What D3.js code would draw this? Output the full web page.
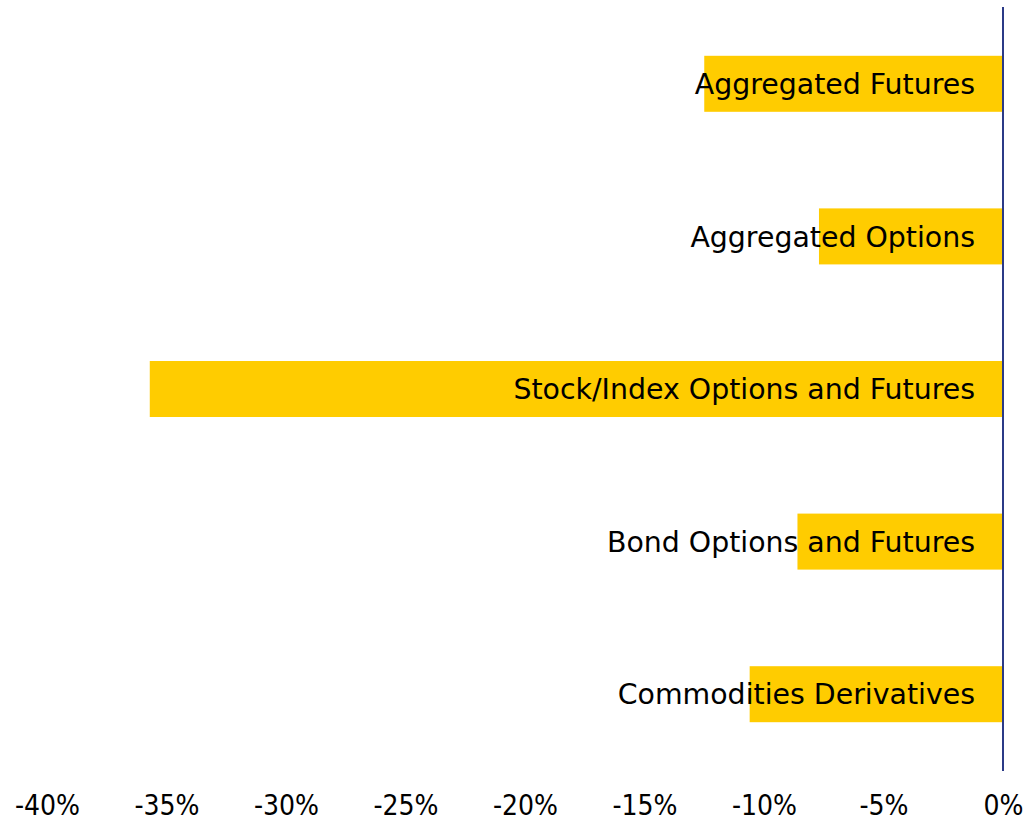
<!DOCTYPE html>
<html>
<head>
<meta charset="utf-8">
<script src="https://cdn.jsdelivr.net/npm/d3@7"></script>
<style>
  body { margin: 0; background: #fff; }
  text { font-family: "DejaVu Sans", sans-serif; fill: #000; }
</style>
</head>
<body>
<svg id="chart" width="1025" height="828"></svg>
<script>
var categories = ["Aggregated Futures", "Aggregated Options", "Stock/Index Options and Futures", "Bond Options and Futures", "Commodities Derivatives"];
var changes = [-12.5, -7.7, -35.7, -8.6, -10.6];
var tickValues = [-40, -35, -30, -25, -20, -15, -10, -5, 0];

var svg = d3.select("#chart");

var x = d3.scaleLinear()
    .domain([-40, 0])
    .range([47, 1003]);

var y = d3.scaleBand()
    .domain(categories)
    .range([7.5, 770.5])
    .paddingInner(0.633)
    .paddingOuter(0.3165);

var data = categories.map(function(c, i) { return { name: c, value: changes[i] }; });

svg.selectAll(".bar")
    .data(data)
    .enter().append("rect")
    .attr("class", "bar")
    .attr("x", function(d) { return x(d.value); })
    .attr("y", function(d) { return y(d.name); })
    .attr("width", function(d) { return x(0) - x(d.value); })
    .attr("height", y.bandwidth())
    .attr("fill", "#ffcc00");

svg.selectAll(".label")
    .data(data)
    .enter().append("text")
    .attr("class", "label")
    .attr("x", 975)
    .attr("y", function(d) { return y(d.name) + y.bandwidth() / 2; })
    .attr("dy", "0.36em")
    .attr("text-anchor", "end")
    .style("font-size", "28.4px")
    .text(function(d) { return d.name; });

// zero line
svg.append("line")
    .attr("x1", x(0)).attr("x2", x(0))
    .attr("y1", 7).attr("y2", 771)
    .attr("stroke", "#2b3a87")
    .attr("stroke-width", 2);

var xAxis = d3.axisBottom(x)
    .tickValues(tickValues)
    .tickSize(0)
    .tickPadding(0)
    .tickFormat(function(d) { return d + "%"; });

var gx = svg.append("g")
    .attr("transform", "translate(0,795)")
    .call(xAxis);
gx.select(".domain").remove();
gx.selectAll("text")
    .style("font-size", "28px")
    .style("font-family", "DejaVu Sans Condensed, DejaVu Sans, sans-serif")
    .style("font-stretch", "condensed")
    .attr("dy", "0.71em");
</script>
</body>
</html>
